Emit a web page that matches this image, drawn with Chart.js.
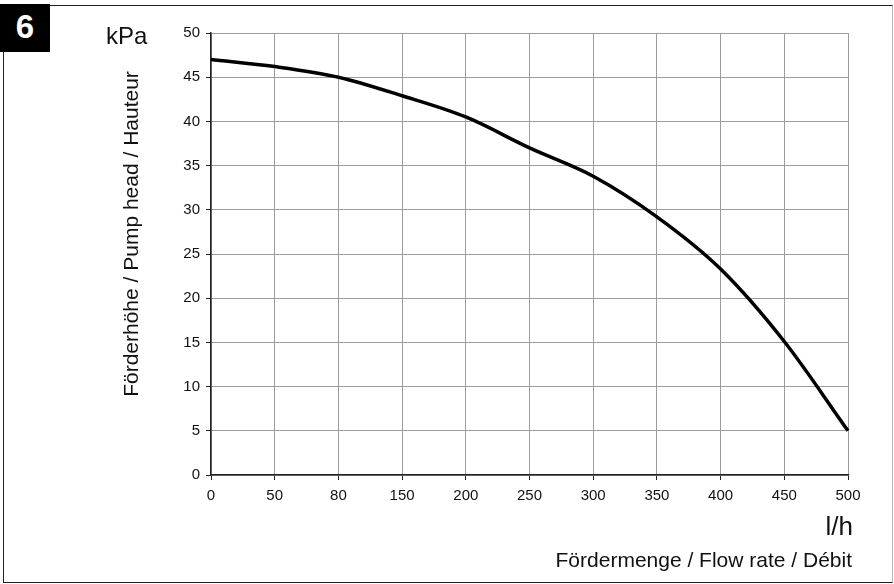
<!DOCTYPE html>
<html>
<head>
<meta charset="utf-8">
<script src="https://cdn.jsdelivr.net/npm/chart.js@4.4.0/dist/chart.umd.min.js"></script>
<style>
  body { margin:0; background:#fff; font-family:"Liberation Sans", Arial, sans-serif; }
  #wrap { position:relative; width:894px; height:584px; overflow:hidden; }
  #frame { position:absolute; left:3px; top:5px; width:888px; height:576px;
           border-left:1.5px solid #222; border-top:1.5px solid #222; border-bottom:1.5px solid #222; border-right:1.5px solid #bbb; }
  #num { position:absolute; left:0; top:4px; width:50px; height:48px; background:#000; color:#fff;
         font-weight:bold; font-size:33px; line-height:46px; text-align:center; }
  .t { position:absolute; color:#111; white-space:nowrap; }
  #unitY { left:106px; top:22px; font-size:24px; }
  #titleY { left:131px; top:234px; font-size:21px; transform:translate(-50%,-50%) rotate(-90deg); }
  #unitX { right:41px; top:511px; font-size:26px; }
  #titleX { right:42px; top:548px; font-size:21px; }
  canvas { position:absolute; left:0; top:0; }
</style>
</head>
<body>
<div id="wrap">
  <div id="frame"></div>
  <canvas id="pumpChart" width="894" height="584"></canvas>
  <div id="num">6</div>
  <div class="t" id="unitY">kPa</div>
  <div class="t" id="titleY">Förderhöhe / Pump head / Hauteur</div>
  <div class="t" id="unitX">l/h</div>
  <div class="t" id="titleX">Fördermenge / Flow rate / Débit</div>
</div>
<script>
// Daten
const flowLabels = ['0','50','80','150','200','250','300','350','400','450','500'];
const headValues = [47, 46.2, 45, 42.9, 40.5, 37, 33.8, 29.2, 23.3, 15.1, 5];
const yMin = 0, yMax = 50, yStep = 5;

const gridCol = '#9c9c9c';
const tickFont = { family: 'Liberation Sans', size: 15 };

const ctx = document.getElementById('pumpChart').getContext('2d');
new Chart(ctx, {
  type: 'line',
  data: {
    labels: flowLabels,
    datasets: [{
      data: headValues,
      borderColor: '#000',
      borderWidth: 3.5,
      pointRadius: 0,
      fill: false,
      cubicInterpolationMode: 'monotone'
    }]
  },
  options: {
    responsive: false,
    animation: false,
    layout: { padding: { left: 0, right: 46, top: 33, bottom: 0 } },
    plugins: { legend: { display: false }, tooltip: { enabled: false } },
    scales: {
      x: {
        type: 'category',
        offset: false,
        grid: { color: gridCol, tickColor: '#222', tickLength: 5, offset: false },
        border: { color: '#222', width: 1.5 },
        ticks: { color: '#111', font: tickFont, padding: 7, maxRotation: 0, autoSkip: false },
        afterFit: s => { s.height = 109; }
      },
      y: {
        min: yMin, max: yMax,
        grid: { color: gridCol, tickColor: '#222', tickLength: 5 },
        border: { color: '#222', width: 1.5 },
        ticks: { stepSize: yStep, color: '#111', font: tickFont, padding: 6 },
        afterFit: s => { s.width = 211; }
      }
    }
  }
});
</script>
</body>
</html>
